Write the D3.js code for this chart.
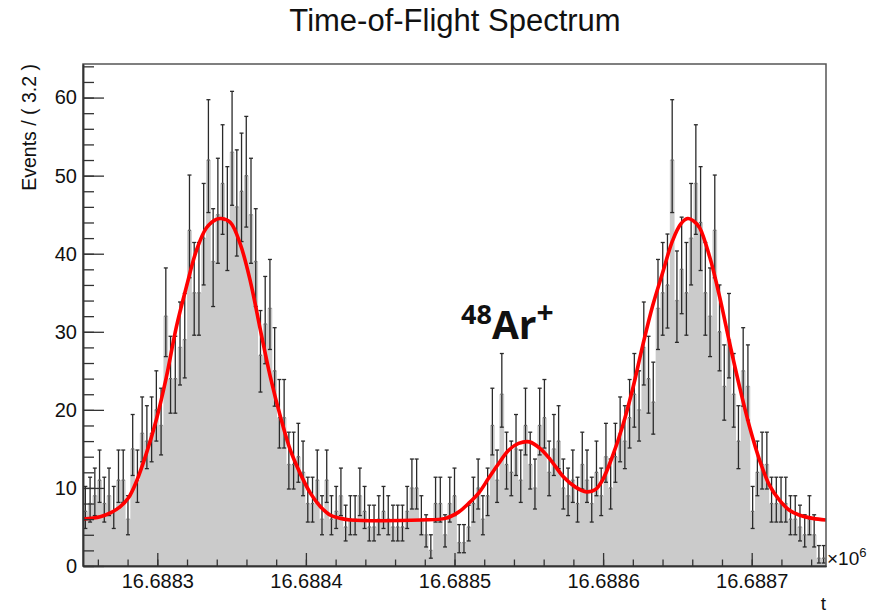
<!DOCTYPE html>
<html lang="en">
<head>
<meta charset="UTF-8">
<title>Time-of-Flight Spectrum</title>
<script src="https://d3js.org/d3.v7.min.js"></script>
<style>
    body { margin: 0; background: white; }
    svg text { font-family: "Liberation Sans", Arial, sans-serif; fill: #111; }
    .ann { font-family: "Open Sans", "Noto Sans", sans-serif; font-weight: bold; }
</style>
</head>
<body>
<div id="chart"></div>
<script>
    const width = 874;
    const height = 613;
    const margin = {top: 64, right: 48, bottom: 47, left: 83};

    // histogram binning of t
    const tMin = 16688250, tMax = 16688750, nBins = 157;
    const counts = [
        7, 8, 9, 11, 8, 9, 7, 11, 11, 6,
        15, 11, 17, 16, 17, 20, 18, 32, 24, 24,
        28, 29, 43, 35, 35, 42, 52, 39, 45, 49,
        44, 53, 46, 48, 50, 45, 39, 27, 31, 33,
        25, 19, 19, 13, 13, 14, 12, 8, 8, 11,
        6, 11, 6, 7, 9, 5, 6, 6, 9, 7,
        5, 5, 6, 7, 6, 5, 5, 5, 7, 10,
        10, 6, 4, 2, 8, 8, 4, 8, 9, 3,
        3, 5, 8, 10, 6, 9, 18, 11, 22, 13,
        12, 15, 11, 18, 13, 10, 18, 19, 12, 15,
        16, 10, 9, 11, 8, 13, 11, 8, 12, 9,
        14, 10, 14, 17, 16, 19, 22, 20, 28, 24,
        21, 33, 35, 36, 52, 34, 38, 35, 42, 49,
        44, 35, 32, 43, 30, 23, 29, 22, 16, 25,
        23, 7, 12, 13, 13, 8, 8, 8, 8, 6,
        6, 5, 4, 6, 4, 1, 1
    ];

    // fit curve
    const fitT = [
        16688250, 16688261.6, 16688268.4, 16688275.1, 16688280.5, 16688285.9, 16688292.6, 16688299.3,
        16688306.1, 16688312.8, 16688319.5, 16688326.3, 16688333.0, 16688339.7, 16688343.1, 16688349.2,
        16688355.9, 16688362.7, 16688369.4, 16688376.1, 16688382.9, 16688389.6, 16688396.3, 16688403.1,
        16688409.8, 16688416.5, 16688423.3, 16688430.0, 16688450.1, 16688477.1, 16688493.9, 16688502.7,
        16688509.4, 16688516.1, 16688522.8, 16688529.6, 16688536.3, 16688543.1, 16688550.5, 16688557.9,
        16688564.6, 16688573.4, 16688581.4, 16688588.8, 16688594.9, 16688599.6, 16688606.4, 16688613.1,
        16688619.8, 16688626.6, 16688633.3, 16688640.1, 16688646.8, 16688652.2, 16688656.9, 16688660.9,
        16688665.0, 16688671.7, 16688678.4, 16688685.2, 16688691.9, 16688698.6, 16688705.4, 16688712.1,
        16688718.8, 16688725.6, 16688732.3, 16688741.1, 16688750
    ];
    const fitY = [
        6.0, 6.3, 6.8, 7.6, 8.7, 10.8, 14.4, 18.7,
        24.2, 30.6, 35.7, 40.4, 43.3, 44.4, 44.5, 44.0,
        41.2, 36.4, 30.2, 24.2, 19.1, 14.8, 11.8, 9.3,
        7.6, 6.5, 6.1, 5.9, 5.8, 5.9, 6.1, 6.9,
        8.0, 9.3, 11.2, 13.1, 14.8, 15.7, 15.9, 15.0,
        13.6, 11.4, 10.1, 9.5, 9.8, 11.0, 14.1, 17.9,
        22.6, 28.2, 33.3, 37.6, 41.7, 43.8, 44.5, 44.2,
        43.3, 39.6, 34.5, 28.5, 22.9, 17.8, 13.5, 10.3,
        8.4, 7.1, 6.5, 6.1, 5.9
    ];

    const yMajor = [0, 10, 20, 30, 40, 50, 60];
    const xMajor = [16688300, 16688400, 16688500, 16688600, 16688700];

    const svg = d3.select("#chart").append("svg")
        .attr("width", width)
        .attr("height", height);

    svg.append("rect").attr("width", width).attr("height", height).attr("fill", "white");

    const x = d3.scaleLinear().domain([tMin, tMax]).range([margin.left, width - margin.right]);
    const y = d3.scaleLinear().domain([0, 64.3]).range([height - margin.bottom, margin.top]);

    const binW = (tMax - tMin) / nBins;
    const bins = counts.map((n, i) => ({
        t0: tMin + i * binW,
        t1: tMin + (i + 1) * binW,
        tc: tMin + (i + 0.5) * binW,
        n: n,
        lo: n + 0.5 - Math.sqrt(n + 0.25),
        hi: n + 0.5 + Math.sqrt(n + 0.25)
    }));

    svg.append("clipPath").attr("id", "clip")
        .append("rect")
        .attr("x", margin.left).attr("y", margin.top)
        .attr("width", width - margin.left - margin.right)
        .attr("height", height - margin.top - margin.bottom);

    const plot = svg.append("g").attr("clip-path", "url(#clip)");

    // filled histogram
    const steps = [];
    bins.forEach(b => { steps.push([b.t0, b.n]); steps.push([b.t1, b.n]); });
    plot.append("path")
        .datum(steps)
        .attr("fill", "#cbcbcb")
        .attr("d", d3.area().x(d => x(d[0])).y0(y(0)).y1(d => y(d[1])));

    // error bars
    const eb = plot.append("g").attr("stroke", "#2a2a2a").attr("stroke-width", 1.3);
    eb.selectAll("line.bar").data(bins).join("line")
        .attr("class", "bar")
        .attr("x1", d => x(d.tc)).attr("x2", d => x(d.tc))
        .attr("y1", d => y(d.lo)).attr("y2", d => y(d.hi));
    eb.selectAll("line.top").data(bins).join("line")
        .attr("class", "top")
        .attr("x1", d => x(d.tc) - 2).attr("x2", d => x(d.tc) + 2)
        .attr("y1", d => y(d.hi)).attr("y2", d => y(d.hi));
    eb.selectAll("line.bot").data(bins).join("line")
        .attr("class", "bot")
        .attr("x1", d => x(d.tc) - 2).attr("x2", d => x(d.tc) + 2)
        .attr("y1", d => y(d.lo)).attr("y2", d => y(d.lo));
    eb.selectAll("line.val").data(bins).join("line")
        .attr("class", "val")
        .attr("stroke", "#666")
        .attr("x1", d => x(d.tc) - 1.5).attr("x2", d => x(d.tc) + 1.5)
        .attr("y1", d => y(d.n)).attr("y2", d => y(d.n));

    // fit curve
    plot.append("path")
        .datum(fitT.map((t, i) => [t, fitY[i]]))
        .attr("fill", "none")
        .attr("stroke", "#ff0000")
        .attr("stroke-width", 3.6)
        .attr("d", d3.line().x(d => x(d[0])).y(d => y(d[1])).curve(d3.curveCatmullRom.alpha(0.5)));

    // frame
    svg.append("rect")
        .attr("x", margin.left).attr("y", margin.top)
        .attr("width", width - margin.left - margin.right)
        .attr("height", height - margin.top - margin.bottom)
        .attr("fill", "none").attr("stroke", "#555").attr("stroke-width", 1.5);

    // y axis
    const yAxis = svg.append("g").attr("transform", `translate(${margin.left},0)`);
    yAxis.call(d3.axisLeft(y).tickValues(yMajor).tickSize(-21).tickPadding(6).tickSizeOuter(0));
    yAxis.append("g").call(d3.axisLeft(y).tickValues(d3.range(0, 65, 2)).tickSize(-11).tickFormat("").tickSizeOuter(0));
    yAxis.selectAll("text").attr("font-size", 20).attr("fill", "#111");

    // x axis
    const xAxis = svg.append("g").attr("transform", `translate(0,${height - margin.bottom})`);
    xAxis.call(d3.axisBottom(x).tickValues(xMajor).tickSize(-13).tickPadding(8).tickSizeOuter(0)
        .tickFormat(d => (d / 1e6).toFixed(4)));
    xAxis.append("g").call(d3.axisBottom(x).tickValues(d3.range(16688260, 16688750, 20)).tickSize(-6.5).tickFormat("").tickSizeOuter(0));
    xAxis.selectAll("text").attr("font-size", 20).attr("fill", "#111");

    svg.selectAll(".domain").attr("stroke", "#333").attr("stroke-width", 1.5);
    svg.selectAll(".tick line").attr("stroke", "#333").attr("stroke-width", 1.3);

    // titles
    svg.append("text")
        .attr("x", 455).attr("y", 31)
        .attr("text-anchor", "middle")
        .attr("font-size", 31)
        .text("Time-of-Flight Spectrum");

    svg.append("text")
        .attr("transform", "translate(36,64) rotate(-90)")
        .attr("text-anchor", "end")
        .attr("font-size", 19.5)
        .text("Events / ( 3.2 )");

    svg.append("text")
        .attr("x", 826).attr("y", 610)
        .attr("text-anchor", "end")
        .attr("font-size", 19)
        .text("t");

    const exp = svg.append("text").attr("x", 827).attr("y", 565).attr("font-size", 19);
    exp.append("tspan").text("\u00d710");
    exp.append("tspan").attr("font-size", 13).attr("dy", -8).text("6");

    // annotation
    const ann = svg.append("text").attr("class", "ann").attr("x", 461).attr("y", 339);
    ann.append("tspan").attr("font-size", 27).attr("dy", -15).text("48");
    ann.append("tspan").attr("font-size", 39).attr("dy", 15).text("Ar");
    ann.append("tspan").attr("font-size", 30).attr("dy", -16).text("+");
</script>
</body>
</html>
